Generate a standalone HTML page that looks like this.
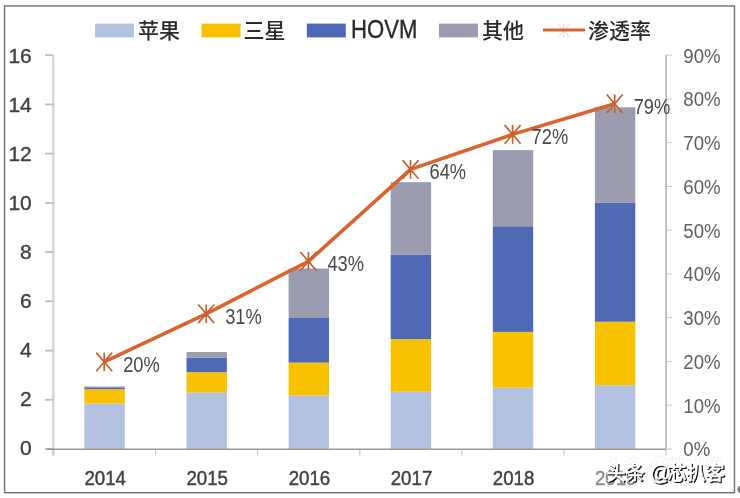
<!DOCTYPE html><html><head><meta charset="utf-8"><style>html,body{margin:0;padding:0;background:#fff;width:740px;height:498px;overflow:hidden}svg{display:block;filter:blur(0.7px)}text{font-family:"Liberation Sans","Noto Sans CJK SC",sans-serif}.cjk{font-family:"Liberation Sans","Noto Sans CJK SC",sans-serif}</style></head><body>
<svg width="740" height="498" viewBox="0 0 740 498">
<rect x="0" y="0" width="740" height="498" fill="#fff"/>
<rect x="4.6" y="6" width="729.9" height="486.7" fill="none" stroke="#707070" stroke-width="1.4"/>
<circle cx="741" cy="489.5" r="3.5" fill="#777"/>
<line x1="53.3" y1="55" x2="53.3" y2="455.5" stroke="#D9D9D9" stroke-width="2.6"/>
<line x1="45" y1="449.0" x2="53.5" y2="449.0" stroke="#BDBDBD" stroke-width="1.8"/>
<line x1="45" y1="399.8" x2="53.5" y2="399.8" stroke="#BDBDBD" stroke-width="1.8"/>
<line x1="45" y1="350.6" x2="53.5" y2="350.6" stroke="#BDBDBD" stroke-width="1.8"/>
<line x1="45" y1="301.3" x2="53.5" y2="301.3" stroke="#BDBDBD" stroke-width="1.8"/>
<line x1="45" y1="252.1" x2="53.5" y2="252.1" stroke="#BDBDBD" stroke-width="1.8"/>
<line x1="45" y1="202.9" x2="53.5" y2="202.9" stroke="#BDBDBD" stroke-width="1.8"/>
<line x1="45" y1="153.6" x2="53.5" y2="153.6" stroke="#BDBDBD" stroke-width="1.8"/>
<line x1="45" y1="104.4" x2="53.5" y2="104.4" stroke="#BDBDBD" stroke-width="1.8"/>
<line x1="45" y1="55.2" x2="53.5" y2="55.2" stroke="#BDBDBD" stroke-width="1.8"/>
<line x1="666.1" y1="55" x2="666.1" y2="449" stroke="#A0A0A0" stroke-width="1.3"/>
<line x1="666" y1="449.0" x2="672" y2="449.0" stroke="#C8C8C8" stroke-width="1"/>
<line x1="666" y1="405.2" x2="672" y2="405.2" stroke="#C8C8C8" stroke-width="1"/>
<line x1="666" y1="361.5" x2="672" y2="361.5" stroke="#C8C8C8" stroke-width="1"/>
<line x1="666" y1="317.7" x2="672" y2="317.7" stroke="#C8C8C8" stroke-width="1"/>
<line x1="666" y1="274.0" x2="672" y2="274.0" stroke="#C8C8C8" stroke-width="1"/>
<line x1="666" y1="230.2" x2="672" y2="230.2" stroke="#C8C8C8" stroke-width="1"/>
<line x1="666" y1="186.5" x2="672" y2="186.5" stroke="#C8C8C8" stroke-width="1"/>
<line x1="666" y1="142.7" x2="672" y2="142.7" stroke="#C8C8C8" stroke-width="1"/>
<line x1="666" y1="99.0" x2="672" y2="99.0" stroke="#C8C8C8" stroke-width="1"/>
<line x1="666" y1="55.2" x2="672" y2="55.2" stroke="#C8C8C8" stroke-width="1"/>
<line x1="53.5" y1="449" x2="53.5" y2="455.5" stroke="#C8C8C8" stroke-width="1.2"/>
<line x1="155.6" y1="449" x2="155.6" y2="455.5" stroke="#C8C8C8" stroke-width="1.2"/>
<line x1="257.7" y1="449" x2="257.7" y2="455.5" stroke="#C8C8C8" stroke-width="1.2"/>
<line x1="359.8" y1="449" x2="359.8" y2="455.5" stroke="#C8C8C8" stroke-width="1.2"/>
<line x1="461.9" y1="449" x2="461.9" y2="455.5" stroke="#C8C8C8" stroke-width="1.2"/>
<line x1="564.0" y1="449" x2="564.0" y2="455.5" stroke="#C8C8C8" stroke-width="1.2"/>
<line x1="666.1" y1="449" x2="666.1" y2="455.5" stroke="#C8C8C8" stroke-width="1.2"/>
<rect x="84.4" y="403.5" width="40.4" height="45.5" fill="#B4C2E2"/>
<rect x="84.4" y="389.2" width="40.4" height="14.3" fill="#F9C200"/>
<rect x="84.4" y="387.3" width="40.4" height="1.9" fill="#4F69B4"/>
<rect x="84.4" y="386.5" width="40.4" height="0.8" fill="#9B9CAF"/>
<rect x="186.5" y="392.6" width="40.4" height="56.4" fill="#B4C2E2"/>
<rect x="186.5" y="372.2" width="40.4" height="20.4" fill="#F9C200"/>
<rect x="186.5" y="357.8" width="40.4" height="14.4" fill="#4F69B4"/>
<rect x="186.5" y="352.0" width="40.4" height="5.8" fill="#9B9CAF"/>
<rect x="288.6" y="395.4" width="40.4" height="53.6" fill="#B4C2E2"/>
<rect x="288.6" y="362.6" width="40.4" height="32.8" fill="#F9C200"/>
<rect x="288.6" y="318.0" width="40.4" height="44.6" fill="#4F69B4"/>
<rect x="288.6" y="268.5" width="40.4" height="49.5" fill="#9B9CAF"/>
<rect x="390.7" y="391.8" width="40.4" height="57.2" fill="#B4C2E2"/>
<rect x="390.7" y="339.2" width="40.4" height="52.6" fill="#F9C200"/>
<rect x="390.7" y="254.6" width="40.4" height="84.6" fill="#4F69B4"/>
<rect x="390.7" y="182.2" width="40.4" height="72.4" fill="#9B9CAF"/>
<rect x="492.8" y="387.6" width="40.4" height="61.4" fill="#B4C2E2"/>
<rect x="492.8" y="331.9" width="40.4" height="55.7" fill="#F9C200"/>
<rect x="492.8" y="226.3" width="40.4" height="105.6" fill="#4F69B4"/>
<rect x="492.8" y="150.1" width="40.4" height="76.2" fill="#9B9CAF"/>
<rect x="594.9" y="385.2" width="40.4" height="63.8" fill="#B4C2E2"/>
<rect x="594.9" y="321.7" width="40.4" height="63.5" fill="#F9C200"/>
<rect x="594.9" y="202.6" width="40.4" height="119.1" fill="#4F69B4"/>
<rect x="594.9" y="107.3" width="40.4" height="95.3" fill="#9B9CAF"/>
<line x1="46.5" y1="449.2" x2="666" y2="449.2" stroke="#9A9A9A" stroke-width="1.6"/>
<polyline points="104.2,361.9 206.2,313.8 308.4,261.3 410.5,169.4 512.6,134.4 614.7,103.8" fill="none" stroke="#DA632E" stroke-width="3.6" stroke-linejoin="round"/>
<path d="M96.2,352.6L112.2,371.2M112.2,352.6L96.2,371.2M104.2,352.6L104.2,371.2" stroke="#C8602F" stroke-width="1.7" fill="none"/>
<path d="M198.2,304.5L214.2,323.1M214.2,304.5L198.2,323.1M206.2,304.5L206.2,323.1" stroke="#C8602F" stroke-width="1.7" fill="none"/>
<path d="M300.4,252.0L316.4,270.6M316.4,252.0L300.4,270.6M308.4,252.0L308.4,270.6" stroke="#C8602F" stroke-width="1.7" fill="none"/>
<path d="M402.5,160.1L418.5,178.7M418.5,160.1L402.5,178.7M410.5,160.1L410.5,178.7" stroke="#C8602F" stroke-width="1.7" fill="none"/>
<path d="M504.6,125.1L520.6,143.7M520.6,125.1L504.6,143.7M512.6,125.1L512.6,143.7" stroke="#C8602F" stroke-width="1.7" fill="none"/>
<path d="M606.7,94.5L622.7,113.1M622.7,94.5L606.7,113.1M614.7,94.5L614.7,113.1" stroke="#C8602F" stroke-width="1.7" fill="none"/>
<text transform="translate(123.2,371.8) scale(0.83,1)" font-size="22" fill="#484848">20%</text>
<text transform="translate(225.2,323.7) scale(0.83,1)" font-size="22" fill="#484848">31%</text>
<text transform="translate(327.4,271.2) scale(0.83,1)" font-size="22" fill="#484848">43%</text>
<text transform="translate(429.5,179.3) scale(0.83,1)" font-size="22" fill="#484848">64%</text>
<text transform="translate(531.6,144.3) scale(0.83,1)" font-size="22" fill="#484848">72%</text>
<text transform="translate(633.7,113.7) scale(0.83,1)" font-size="22" fill="#484848">79%</text>
<text x="31.8" y="455.2" font-size="21" fill="#404040" stroke="#404040" stroke-width="0.35" text-anchor="end">0</text>
<text x="31.8" y="406.2" font-size="21" fill="#404040" stroke="#404040" stroke-width="0.35" text-anchor="end">2</text>
<text x="31.8" y="357.1" font-size="21" fill="#404040" stroke="#404040" stroke-width="0.35" text-anchor="end">4</text>
<text x="31.8" y="308.1" font-size="21" fill="#404040" stroke="#404040" stroke-width="0.35" text-anchor="end">6</text>
<text x="31.8" y="259.1" font-size="21" fill="#404040" stroke="#404040" stroke-width="0.35" text-anchor="end">8</text>
<text x="31.8" y="210.0" font-size="21" fill="#404040" stroke="#404040" stroke-width="0.35" text-anchor="end">10</text>
<text x="31.8" y="161.0" font-size="21" fill="#404040" stroke="#404040" stroke-width="0.35" text-anchor="end">12</text>
<text x="31.8" y="112.0" font-size="21" fill="#404040" stroke="#404040" stroke-width="0.35" text-anchor="end">14</text>
<text x="31.8" y="63.0" font-size="21" fill="#404040" stroke="#404040" stroke-width="0.35" text-anchor="end">16</text>
<text transform="translate(683.3,456.3) scale(0.955,1)" font-size="19.5" fill="#606060">0%</text>
<text transform="translate(683.3,412.5) scale(0.955,1)" font-size="19.5" fill="#606060">10%</text>
<text transform="translate(683.3,368.8) scale(0.955,1)" font-size="19.5" fill="#606060">20%</text>
<text transform="translate(683.3,325.0) scale(0.955,1)" font-size="19.5" fill="#606060">30%</text>
<text transform="translate(683.3,281.3) scale(0.955,1)" font-size="19.5" fill="#606060">40%</text>
<text transform="translate(683.3,237.5) scale(0.955,1)" font-size="19.5" fill="#606060">50%</text>
<text transform="translate(683.3,193.8) scale(0.955,1)" font-size="19.5" fill="#606060">60%</text>
<text transform="translate(683.3,150.0) scale(0.955,1)" font-size="19.5" fill="#606060">70%</text>
<text transform="translate(683.3,106.3) scale(0.955,1)" font-size="19.5" fill="#606060">80%</text>
<text transform="translate(683.3,62.5) scale(0.955,1)" font-size="19.5" fill="#606060">90%</text>
<text transform="translate(105.2,484.7) scale(0.89,1)" font-size="21" fill="#404040" stroke="#404040" stroke-width="0.45" text-anchor="middle">2014</text>
<text transform="translate(207.2,484.7) scale(0.89,1)" font-size="21" fill="#404040" stroke="#404040" stroke-width="0.45" text-anchor="middle">2015</text>
<text transform="translate(309.4,484.7) scale(0.89,1)" font-size="21" fill="#404040" stroke="#404040" stroke-width="0.45" text-anchor="middle">2016</text>
<text transform="translate(411.5,484.7) scale(0.89,1)" font-size="21" fill="#404040" stroke="#404040" stroke-width="0.45" text-anchor="middle">2017</text>
<text transform="translate(513.6,484.7) scale(0.89,1)" font-size="21" fill="#404040" stroke="#404040" stroke-width="0.45" text-anchor="middle">2018</text>
<text transform="translate(615.7,484.7) scale(0.89,1)" font-size="21" fill="#8a8a8a" stroke="#8a8a8a" stroke-width="0.45" text-anchor="middle">2019</text>
<rect x="95" y="23.6" width="39" height="13.8" fill="#B4C2E2"/>
<text x="138" y="37.5" font-size="21" class="cjk" font-weight="500" fill="#2a2a2a">苹果</text>
<rect x="201.5" y="23.6" width="39" height="13.8" fill="#F9C200"/>
<text x="243.5" y="37.5" font-size="21" class="cjk" font-weight="500" fill="#2a2a2a">三星</text>
<rect x="306.8" y="23.6" width="39" height="13.8" fill="#4F69B4"/>
<text transform="translate(351.0,38.4) scale(0.885,1)" font-size="25" fill="#2a2a2a" stroke="#2a2a2a" stroke-width="0.35">HOVM</text>
<rect x="439" y="23.6" width="39" height="13.8" fill="#9B9CAF"/>
<text x="482" y="37.5" font-size="21" class="cjk" font-weight="500" fill="#2a2a2a">其他</text>
<line x1="543" y1="30" x2="585" y2="30" stroke="#DA632E" stroke-width="3.2"/>
<path d="M557.6,24.0L569.6,37.0M569.6,24.0L557.6,37.0M563.6,24.0L563.6,37.0" stroke="#DA632E" stroke-width="1" fill="none" opacity="0.3"/>
<text x="588" y="37.5" font-size="21" class="cjk" font-weight="500" fill="#2a2a2a">渗透率</text>
<g opacity="0.3" fill="#e0e0e0" stroke="none" stroke-width="0" transform="translate(-1,-8)"><text y="480" font-size="19" class="cjk"><tspan x="606.5">头</tspan><tspan x="625.5">条</tspan><tspan x="667.5">芯</tspan><tspan x="686.5">扒</tspan><tspan x="705.5">客</tspan></text><text x="649.6" y="479.6" font-size="21.5" style="font-family:'Liberation Sans',sans-serif">@</text></g>
<g opacity="1" fill="#111" stroke="#111" stroke-width="1" transform="translate(1.1,1.1)"><text y="480" font-size="19" class="cjk"><tspan x="606.5">头</tspan><tspan x="625.5">条</tspan><tspan x="667.5">芯</tspan><tspan x="686.5">扒</tspan><tspan x="705.5">客</tspan></text><text x="649.6" y="479.6" font-size="21.5" style="font-family:'Liberation Sans',sans-serif">@</text></g>
<g opacity="1" fill="#fff" stroke="#fff" stroke-width="0.6" transform="translate(0,0)"><text y="480" font-size="19" class="cjk"><tspan x="606.5">头</tspan><tspan x="625.5">条</tspan><tspan x="667.5">芯</tspan><tspan x="686.5">扒</tspan><tspan x="705.5">客</tspan></text><text x="649.6" y="479.6" font-size="21.5" style="font-family:'Liberation Sans',sans-serif">@</text></g>
</svg></body></html>
